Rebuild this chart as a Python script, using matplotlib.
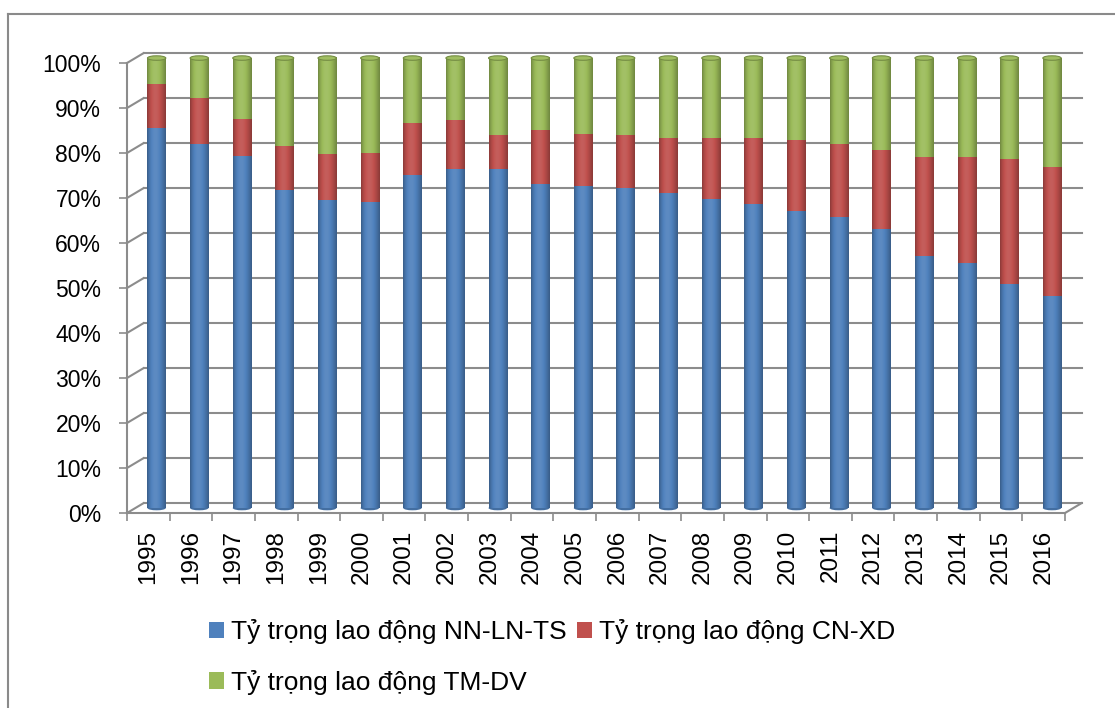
import numpy as np
import matplotlib
matplotlib.use('Agg')
import matplotlib.pyplot as plt
from matplotlib.patches import Ellipse, Patch
from matplotlib.lines import Line2D
from matplotlib.colors import to_rgb

# Labour structure by sector, % of total employment
years = list(range(1995, 2017))
nn_ln_ts = [84.4, 80.8, 78.2, 70.7, 68.4, 67.9, 74.1, 75.3, 75.4, 72.1, 71.6,
            71.2, 70.0, 68.7, 67.6, 66.0, 64.7, 61.9, 56.0, 54.5, 49.7, 47.1]
cn_xd = [9.9, 10.4, 8.3, 9.7, 10.2, 10.9, 11.5, 11.0, 7.6, 11.8, 11.6,
         11.8, 12.3, 13.6, 14.7, 15.7, 16.3, 17.6, 22.1, 23.5, 27.8, 28.7]
tm_dv = [5.7, 8.8, 13.5, 19.6, 21.4, 21.2, 14.4, 13.7, 17.0, 16.1, 16.8,
         17.0, 17.7, 17.7, 17.7, 18.3, 19.0, 20.5, 21.9, 22.0, 22.5, 24.2]

series = [nn_ln_ts, cn_xd, tm_dv]
series_labels = ['Tỷ trọng lao động NN-LN-TS',
                 'Tỷ trọng lao động CN-XD',
                 'Tỷ trọng lao động TM-DV']
series_colors = ['#4F81BD', '#C0504D', '#9BBB59']

plt.rcParams['font.family'] = ['Liberation Sans', 'DejaVu Sans']

W, H = 1115, 708
GRID = '#8C8C8C'
DX_WALL, DY_WALL = 0.39, 2.2      # depth of the fake 3-D box
DX_BAR, DY_BAR = DX_WALL / 2, DY_WALL / 2
BAR_W = 0.43
CAP_H = 1.0

# horizontal shading across a cylinder
t = np.linspace(0, 1, 48)
shade = 0.72 + 0.36 * np.sin(np.pi * t ** 0.85)


def shaded(color):
    c = np.array(to_rgb(color))
    s = shade[:, None]
    out = np.where(s <= 1, c * s, c + (1 - c) * (s - 1))
    return np.clip(out, 0, 1)[None, :, :]


def mix(color, other, k):
    c, o = np.array(to_rgb(color)), np.array(to_rgb(other))
    return tuple(c + (o - c) * k)


fig = plt.figure(figsize=(W / 100, H / 100), dpi=100)
ax = fig.add_axes([127 / W, 1 - 513 / H, 938 / W, 450 / H])

x = np.arange(len(years))
x_left, x_right = -0.5, len(years) - 0.5
levels = np.arange(0, 101, 10)

# back wall gridlines and side-wall diagonals
for v in levels:
    ax.plot([x_left + DX_WALL, x_right + DX_WALL], [v + DY_WALL] * 2,
            color=GRID, lw=1.5, zorder=1, clip_on=False)
    ax.plot([x_left, x_left + DX_WALL], [v, v + DY_WALL],
            color=GRID, lw=1.5, zorder=1, clip_on=False)
ax.plot([x_right, x_right + DX_WALL], [0, DY_WALL],
        color=GRID, lw=1.5, zorder=1, clip_on=False)

# stacked cylinders
bottoms = np.zeros(len(years))
handles = []
for vals, color, label in zip(series, series_colors, series_labels):
    vals = np.asarray(vals, dtype=float)
    bars = ax.bar(x + DX_BAR, vals, BAR_W, bottom=bottoms + DY_BAR,
                  color=color, zorder=3, clip_on=False)
    img = shaded(color)
    for rect in bars:
        x0, y0 = rect.get_x(), rect.get_y()
        im = ax.imshow(img, extent=(x0, x0 + rect.get_width(), y0, y0 + rect.get_height()),
                       aspect='auto', interpolation='bilinear', zorder=3.1)
        im.set_clip_on(False)
    handles.append(Patch(facecolor=color, label=label))
    bottoms += vals

for xi, top in zip(x, bottoms):
    ax.add_patch(Ellipse((xi + DX_BAR, DY_BAR), BAR_W, CAP_H,
                         facecolor=mix(series_colors[0], 'black', 0.15),
                         edgecolor='none', zorder=2.9, clip_on=False))
    ax.add_patch(Ellipse((xi + DX_BAR, top + DY_BAR), BAR_W, CAP_H,
                         facecolor=mix(series_colors[2], 'white', 0.05),
                         edgecolor=mix(series_colors[2], 'black', 0.25),
                         lw=0.8, zorder=3.5, clip_on=False))

ax.set_xlim(x_left, x_right)
ax.set_ylim(0, 100)

for side in ('top', 'right'):
    ax.spines[side].set_visible(False)
for side in ('left', 'bottom'):
    ax.spines[side].set_color(GRID)
    ax.spines[side].set_linewidth(1.5)
    ax.spines[side].set_zorder(4)

ax.set_yticks(levels, [f'{v}%' for v in levels])
ax.tick_params(axis='y', length=6, width=1.2, color=GRID, pad=12.5, labelsize=16.5)

ax.set_xticks(np.arange(x_left, x_right + 0.1, 1), labels=[])
ax.set_xticks(x, labels=[str(y) for y in years], minor=True, rotation=90)
ax.tick_params(axis='x', which='major', length=6, width=1.2, color=GRID)
ax.tick_params(axis='x', which='minor', length=0, pad=12, labelsize=17.5)

# chart area border
fig.add_artist(Line2D([8 / W, 8 / W], [0, 1 - 14 / H], color='#8A8A8A', lw=1.5))
fig.add_artist(Line2D([8 / W, 1], [1 - 14 / H] * 2, color='#8A8A8A', lw=1.5))

fig.legend(handles=[handles[0], handles[2], handles[1]], ncol=2,
           loc='upper left', bbox_to_anchor=(209 / W, 1 - 619 / H),
           frameon=False, fontsize=19, handlelength=0.57, handleheight=0.57,
           handletextpad=0.27, columnspacing=0.38, labelspacing=0.98,
           borderpad=0, borderaxespad=0)

fig.savefig('out.png', dpi=100, facecolor='white')
